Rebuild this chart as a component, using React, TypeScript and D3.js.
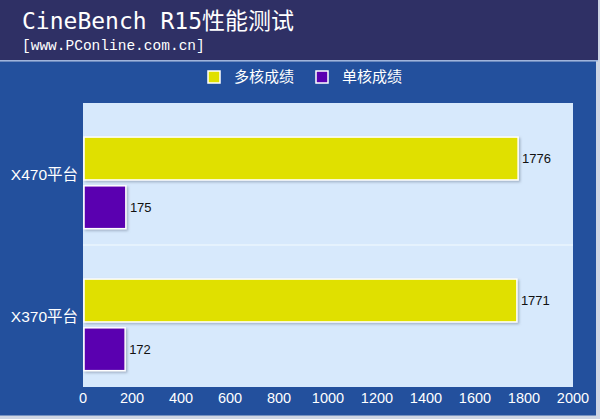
import React from "react";
import * as d3 from "d3";

const categories = ["X470平台", "X370平台"];
const seriesNames = ["多核成绩", "单核成绩"];
const multiCore = [1776, 1771];
const singleCore = [175, 172];
const xTicks = [0, 200, 400, 600, 800, 1000, 1200, 1400, 1600, 1800, 2000];
const seriesColors = ["#e0e000", "#5a00b0"];

const W = 600;
const H = 419;
const plot = { left: 83, right: 573, top: 103, bottom: 387 };

export default function App() {
  const x = d3.scaleLinear().domain([0, 2000]).range([plot.left, plot.right]);
  const yCat = d3.scaleBand<string>().domain(categories).range([plot.top, plot.bottom]).paddingInner(0);
  const bw = yCat.bandwidth();
  const ySer = d3
    .scaleBand<string>()
    .domain(seriesNames)
    .range([bw * 0.24, bw * 0.885])
    .paddingInner(0.12);
  const values = [multiCore, singleCore];

  return (
    <svg
      width={W}
      height={H}
      style={{ position: "fixed", top: 0, left: 0, display: "block" }}
      fontFamily="Arial, 'Liberation Sans', 'Noto Sans CJK SC', sans-serif"
    >
      <defs>
        <filter id="sh" x="-5%" y="-20%" width="115%" height="150%">
          <feDropShadow dx="1.5" dy="1.5" stdDeviation="1" floodColor="#7a8aa0" floodOpacity="0.6" />
        </filter>
      </defs>
      <rect x={0} y={0} width={W} height={H} fill="#cfd6e4" />
      <rect x={0} y={0} width={598} height={60} fill="#2f3065" />
      <rect x={0} y={60} width={598} height={1.5} fill="#9fb4dc" />
      <rect x={0} y={61.5} width={596} height={354} fill="#23509d" />
      <text
        x={22}
        y={29}
        fill="#ffffff"
        fontSize={23}
        fontFamily="'DejaVu Sans Mono', 'Liberation Mono', 'Noto Sans CJK SC', monospace"
      >
        CineBench R15性能测试
      </text>
      <text
        x={22}
        y={50}
        fill="#ffffff"
        fontSize={14.5}
        fontFamily="'Liberation Mono', 'DejaVu Sans Mono', monospace"
      >
        [www.PConline.com.cn]
      </text>

      {/* legend */}
      {seriesNames.map((s, i) => {
        const lx = [208, 316][i];
        return (
          <g key={s}>
            <rect x={lx} y={71} width={12} height={12} fill={seriesColors[i]} stroke="#ffffff" strokeWidth={1.5} />
            <text x={lx + 26} y={82} fill="#ffffff" fontSize={15} fontFamily="'Noto Sans CJK SC', sans-serif">
              {s}
            </text>
          </g>
        );
      })}

      {/* plot area */}
      <rect x={plot.left} y={plot.top} width={plot.right - plot.left} height={plot.bottom - plot.top} fill="#d7e9fc" />
      {categories.slice(1).map((c) => (
        <line
          key={c}
          x1={plot.left}
          x2={plot.right}
          y1={yCat(c)!}
          y2={yCat(c)!}
          stroke="#eaf4fe"
          strokeWidth={1.5}
        />
      ))}

      {categories.map((c, ci) => (
        <g key={c}>
          <text
            x={78}
            y={yCat(c)! + bw / 2}
            fill="#ffffff"
            fontSize={15.5}
            textAnchor="end"
            dominantBaseline="central"
          >
            {c}
          </text>
          {seriesNames.map((s, si) => {
            const v = values[si][ci];
            const y0 = yCat(c)! + ySer(s)!;
            const h = ySer.bandwidth();
            return (
              <g key={s}>
                <rect
                  x={x(0) + 1}
                  y={y0}
                  width={x(v) - x(0) - 1}
                  height={h}
                  fill={seriesColors[si]}
                  stroke="#ffffff"
                  strokeWidth={1.5}
                  filter="url(#sh)"
                />
                <text x={x(v) + 4} y={y0 + h / 2} fill="#111111" fontSize={13} dominantBaseline="central">
                  {v}
                </text>
              </g>
            );
          })}
        </g>
      ))}

      {/* x axis ticks */}
      {xTicks.map((t) => (
        <text key={t} x={x(t)} y={398} fill="#ffffff" fontSize={14.5} textAnchor="middle" dominantBaseline="central">
          {t}
        </text>
      ))}
    </svg>
  );
}
